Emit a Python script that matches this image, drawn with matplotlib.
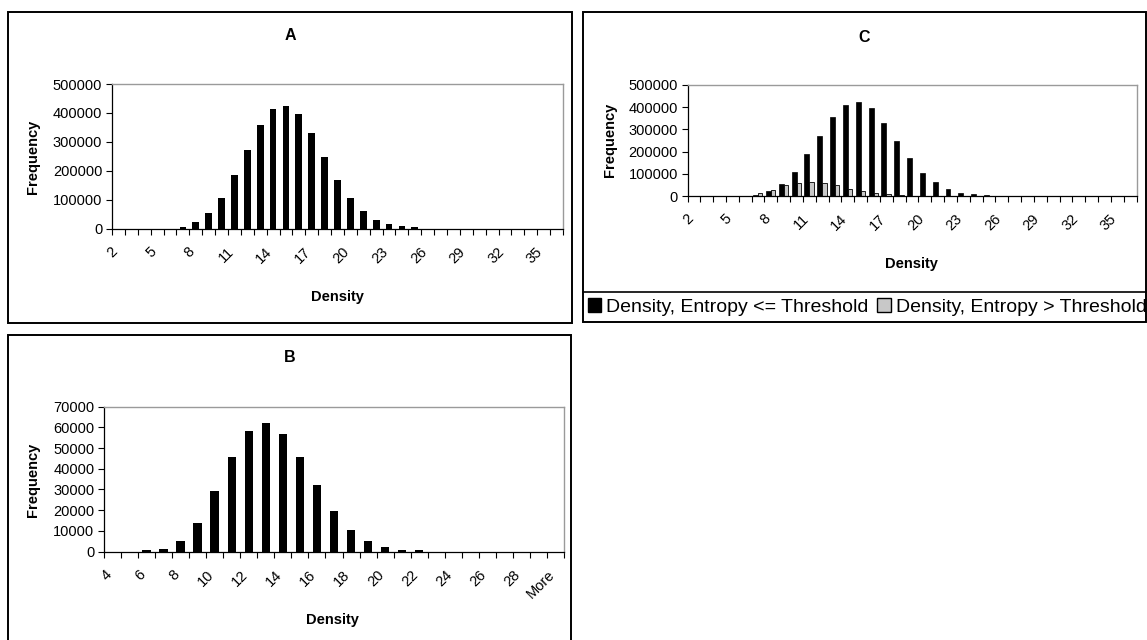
import numpy as np
import matplotlib.pyplot as plt
from matplotlib.patches import Rectangle, Patch
from matplotlib.lines import Line2D
from matplotlib.transforms import ScaledTranslation

plt.rcParams['font.family'] = ['Liberation Sans', 'DejaVu Sans']

# panel A: density histogram, bins 2..36
a_bins = [str(v) for v in range(2, 37)]
a_freq = [0, 0, 0, 0, 0, 4000, 23000, 55000, 107000, 186000, 270000, 357000,
          413000, 425000, 397000, 331000, 247000, 169000, 104000, 60000, 30000,
          14000, 9000, 4000, 0, 0, 0, 0, 0, 0, 0, 0, 0, 0, 0]

# panel B: bins 4..29 + More
b_bins = [str(v) for v in range(4, 30)] + ['More']
b_freq = [0, 0, 500, 1100, 5200, 13700, 29100, 45600, 58200, 62100, 56900,
          45600, 32000, 19400, 10300, 5200, 2400, 800, 600, 0, 0, 0, 0, 0, 0,
          0, 0]

# panel C: split by entropy threshold
c_bins = a_bins
c_low = [0, 0, 0, 0, 0, 4000, 22000, 55000, 108000, 187000, 271000, 356000,
         412000, 424000, 397000, 329000, 249000, 171000, 103000, 61000, 30000,
         15000, 9000, 5000, 0, 0, 0, 0, 0, 0, 0, 0, 0, 0, 0]
c_high = [0, 0, 0, 0, 2000, 15000, 26000, 50000, 58000, 65000, 59000, 48000,
          33000, 22000, 13000, 7000, 3000, 0, 0, 0, 0, 0, 0, 0, 0, 0, 0, 0, 0,
          0, 0, 0, 0, 0, 0]
legend_labels = ['Density, Entropy <= Threshold', 'Density, Entropy > Threshold']

W, H = 1147, 640
fig = plt.figure(figsize=(W / 100, H / 100), dpi=100)


def fx(x):
    return x / W


def fy(y):
    return 1 - y / H


def box(x0, y0, x1, y1):
    fig.patches.append(Rectangle((fx(x0), fy(y1)), fx(x1 - x0), (y1 - y0) / H,
                                 transform=fig.transFigure, fill=False,
                                 edgecolor='black', lw=1.4))


def make_axes(l, t, r, b):
    return fig.add_axes([fx(l), fy(b), fx(r - l), (b - t) / H])


def style(ax, labels, step, ymax, ystep):
    n = len(labels)
    ax.set_xlim(-0.5, n - 0.5)
    ax.set_ylim(0, ymax)
    ax.set_yticks(np.arange(0, ymax + 1, ystep))
    ax.yaxis.set_major_formatter(plt.FuncFormatter(lambda v, p: '%d' % v))
    ax.tick_params(axis='y', labelsize=10.5, length=4, width=0.8, pad=3)
    idx = np.arange(0, n, step)
    ax.set_xticks(idx)
    ax.set_xticklabels([labels[i] for i in idx], rotation=45, ha='right',
                       va='top', rotation_mode='anchor', fontsize=10.5)
    ax.tick_params(axis='x', which='major', length=0, pad=10)
    # excel puts the label end a bit left of the category centre
    shift = ScaledTranslation(-0.08, -0.02, fig.dpi_scale_trans)
    for t in ax.get_xticklabels():
        t.set_transform(t.get_transform() + shift)
    ax.set_xticks(np.arange(-0.5, n, 1), minor=True)
    ax.tick_params(axis='x', which='minor', length=4, width=0.8)
    for s in ['top', 'right']:
        ax.spines[s].set_color('#9a9a9a')
        ax.spines[s].set_linewidth(1.0)
    for s in ['left', 'bottom']:
        ax.spines[s].set_linewidth(0.9)


# outer frames
box(8, 12, 572, 323)
box(583, 12, 1146, 322)
box(8, 335, 571, 660)
fig.lines.append(Line2D([fx(583), fx(1146)], [fy(292), fy(292)],
                        transform=fig.transFigure, color='black', lw=1.2))

# A
axA = make_axes(112, 84, 563, 228.5)
axA.bar(np.arange(len(a_bins)), a_freq, width=0.52, color='black')
style(axA, a_bins, 3, 500000, 100000)
fig.text(fx(290), fy(36), 'A', ha='center', va='center', fontsize=11.5, fontweight='bold')
fig.text(fx(33), fy(157), 'Frequency', ha='center', va='center', rotation=90,
         fontsize=10.5, fontweight='bold')
fig.text(fx(337), fy(297), 'Density', ha='center', va='center', fontsize=10.5, fontweight='bold')

# B
axB = make_axes(104, 406.7, 564, 551.5)
axB.bar(np.arange(len(b_bins)), b_freq, width=0.5, color='black')
style(axB, b_bins, 2, 70000, 10000)
fig.text(fx(290), fy(358), 'B', ha='center', va='center', fontsize=11.5, fontweight='bold')
fig.text(fx(33), fy(480), 'Frequency', ha='center', va='center', rotation=90,
         fontsize=10.5, fontweight='bold')
fig.text(fx(332), fy(620), 'Density', ha='center', va='center', fontsize=10.5, fontweight='bold')

# C
axC = make_axes(687.5, 85, 1136.5, 196)
xc = np.arange(len(c_bins))
axC.bar(xc - 0.19, c_low, width=0.38, color='black', edgecolor='black', lw=0.5)
axC.bar(xc + 0.17, c_high, width=0.34, color='#c8c8c8', edgecolor='black', lw=0.6)
style(axC, c_bins, 3, 500000, 100000)
fig.text(fx(864), fy(37), 'C', ha='center', va='center', fontsize=11.5, fontweight='bold')
fig.text(fx(610), fy(140), 'Frequency', ha='center', va='center', rotation=90,
         fontsize=10.5, fontweight='bold')
fig.text(fx(911), fy(264), 'Density', ha='center', va='center', fontsize=10.5, fontweight='bold')

handles = [Patch(facecolor='black', edgecolor='black'),
           Patch(facecolor='#c8c8c8', edgecolor='black')]
fig.legend(handles, legend_labels, loc='center', bbox_to_anchor=(fx(867), fy(307)),
           ncol=2, frameon=False, fontsize=14, handlelength=0.7,
           handleheight=0.7, handletextpad=0.25, columnspacing=0.45,
           borderaxespad=0)

fig.savefig('out.png', dpi=100)
